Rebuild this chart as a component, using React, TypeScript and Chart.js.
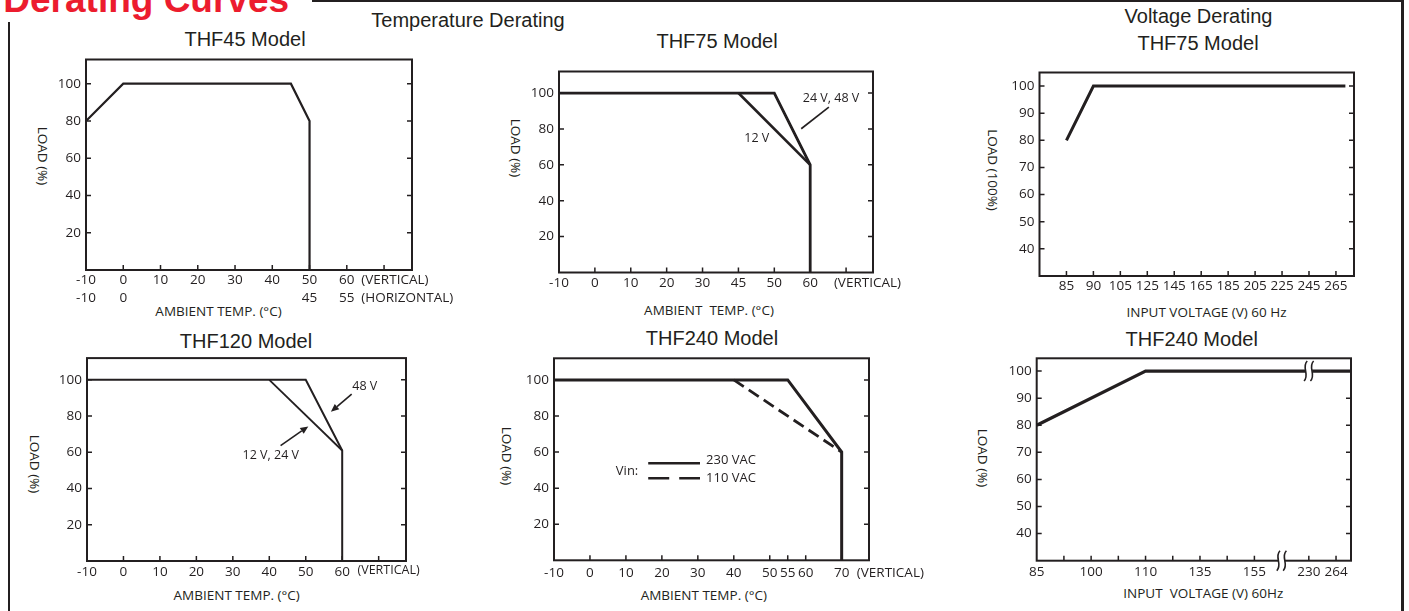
import React, { useEffect, useRef } from "react";
import { Chart, registerables } from "chart.js";
Chart.register(...registerables);

const INK = "#231f20";
const RED = "#ec1c2e";
const SANS = "'Liberation Sans', Arial, sans-serif";
const OPEN = "'Open Sans', sans-serif";

// ---------------- data ----------------
const tempYTicks = [20, 40, 60, 80, 100];
const voltYTicks = [40, 50, 60, 70, 80, 90, 100];

// THF45 (temperature)
const thf45Temp = [-10, 0, 45, 50, 50];
const thf45Load = [80, 100, 100, 80, 0];
const thf45XTicks = [-10, 0, 10, 20, 30, 40, 50, 60, 70];
const thf45XLabelsVertical = ["-10", "0", "10", "20", "30", "40", "50", "60", ""];
const thf45XLabelsHorizontal = ["-10", "0", "", "", "", "", "45", "55", ""];

// THF75 (temperature)
const thf75TempAxis = [-10, 0, 10, 20, 30, 45, 50, 60];
const thf75Temp_24_48 = [-10, 50, 60, 60];
const thf75Load_24_48 = [100, 100, 60, 0];
const thf75Temp_12 = [45, 60];
const thf75Load_12 = [100, 60];

// THF75 (voltage)
const thf75VoltAxis = [85, 90, 105, 125, 145, 165, 185, 205, 225, 245, 265];
const thf75Volt = [85, 90, 272];
const thf75VoltLoad = [80, 100, 100];

// THF120 (temperature)
const thf120XTicks = [-10, 0, 10, 20, 30, 40, 50, 60, 70];
const thf120XLabels = ["-10", "0", "10", "20", "30", "40", "50", "60", ""];
const thf120Temp_48 = [-10, 50, 60, 60];
const thf120Load_48 = [100, 100, 61, 0];
const thf120Temp_12_24 = [40, 60];
const thf120Load_12_24 = [100, 61];

// THF240 (temperature)
const thf240XTicks = [-10, 0, 10, 20, 30, 40, 50, 55, 60, 70];
const thf240Temp_230 = [-10, 55, 70, 70];
const thf240Load_230 = [100, 100, 60, 0];
const thf240Temp_110 = [40, 70];
const thf240Load_110 = [100, 60];

// THF240 (voltage) - broken axis
const thf240VoltAxis = [85, 100, 110, 135, 155, 230, 264];
const thf240VoltSlots = [0, 2, 4, 6, 8, 10, 11];
const thf240Volt = [85, 110, 283];
const thf240VoltLoad = [80, 100, 100];

// ---------------- helpers ----------------
function makeMap(knots: number[], slots: number[] = knots.map((_, i) => i)) {
  return (v: number) => {
    let i = 0;
    while (i < knots.length - 2 && v > knots[i + 1]) i++;
    const t = (v - knots[i]) / (knots[i + 1] - knots[i]);
    return slots[i] + t * (slots[i + 1] - slots[i]);
  };
}
const ident = (v: number) => v;
const range = (a: number, b: number, s = 1) => {
  const r: number[] = [];
  for (let v = a; v <= b; v += s) r.push(v);
  return r;
};

type Ann =
  | { kind: "text"; x: number; y: number; text: string; align?: CanvasTextAlign; size?: number }
  | { kind: "line"; x1: number; y1: number; x2: number; y2: number; width?: number; dash?: number[] }
  | { kind: "arrow"; x1: number; y1: number; x2: number; y2: number }
  | { kind: "brk"; x: number; y: number }
  | { kind: "under"; x: number; row: number; text: string; size?: number; gap?: number };

interface Series { x: number[]; y: number[]; width: number; dash?: number[] }
interface Panel {
  id: string;
  box: { x: number; y: number; w: number; h: number };
  area: { l: number; t: number; r: number; b: number };
  xMin: number; xMax: number; yMin: number; yMax: number;
  map: (v: number) => number;
  xTicks: number[];
  xLabels: (string | string[])[];
  xMarks: number[];
  yTicks: number[];
  labelGap: number;
  lineH: number;
  xh?: number;
  series: Series[];
  anns: Ann[];
}

const YW = 30, XH = 30, TL = 5, FS = 13.5;

const mapT75 = makeMap(thf75TempAxis);
const mapV75 = makeMap(thf75VoltAxis);
const mapV240 = makeMap(thf240VoltAxis, thf240VoltSlots);

const panels: Panel[] = [
  {
    id: "p1", box: { x: 0, y: 40, w: 453, h: 270 }, area: { l: 86, t: 59.5, r: 412, b: 270 },
    xMin: -10, xMax: 77.5, yMin: 0, yMax: 113, map: ident,
    xTicks: thf45XTicks,
    xLabels: thf45XTicks.map((_, i) => [thf45XLabelsVertical[i], thf45XLabelsHorizontal[i]]),
    xMarks: range(0, 70, 10), yTicks: tempYTicks, labelGap: 10, lineH: 18, xh: 40,
    series: [{ x: thf45Temp, y: thf45Load, width: 2.2 }],
    anns: [
      { kind: "under", x: 63.9, row: 0, text: "(VERTICAL)" },
      { kind: "under", x: 63.9, row: 1, text: "(HORIZONTAL)" },
    ],
  },
  {
    id: "p2", box: { x: 470, y: 50, w: 470, h: 260 }, area: { l: 559, t: 71.5, r: 873, b: 272.5 },
    xMin: 0, xMax: 8.75, yMin: 0, yMax: 112, map: mapT75,
    xTicks: thf75TempAxis.map((_, i) => i), xLabels: thf75TempAxis.map(String),
    xMarks: range(1, 8), yTicks: tempYTicks, labelGap: 10.6, lineH: 16.2,
    series: [
      { x: thf75Temp_24_48, y: thf75Load_24_48, width: 2.8 },
      { x: thf75Temp_12, y: thf75Load_12, width: 2.6 },
    ],
    anns: [
      { kind: "under", x: 66.6, row: 0, text: "(VERTICAL)" },
      { kind: "text", x: 65.8, y: 97.2, text: "24 V, 48 V" },
      { kind: "line", x1: 65.2, y1: 92.2, x2: 57.5, y2: 80.1, width: 1.6 },
      { kind: "text", x: 47.55, y: 74.9, text: "12 V" },
    ],
  },
  {
    id: "p3", box: { x: 960, y: 55, w: 435, h: 255 }, area: { l: 1039.5, t: 72.5, r: 1354, b: 276 },
    xMin: -1, xMax: 10.67, yMin: 30, yMax: 105, map: mapV75,
    xTicks: thf75VoltAxis.map((_, i) => i), xLabels: thf75VoltAxis.map(String),
    xMarks: range(0, 10), yTicks: voltYTicks, labelGap: 10, lineH: 16.2,
    series: [{ x: thf75Volt, y: thf75VoltLoad, width: 3 }],
    anns: [],
  },
  {
    id: "p4", box: { x: 0, y: 345, w: 453, h: 266 }, area: { l: 87, t: 357, r: 406, b: 561 },
    xMin: -10, xMax: 77.5, yMin: 0, yMax: 112, map: ident,
    xTicks: thf120XTicks, xLabels: thf120XLabels,
    xMarks: range(0, 70, 10), yTicks: tempYTicks, labelGap: 11.3, lineH: 16.2,
    series: [
      { x: thf120Temp_48, y: thf120Load_48, width: 2 },
      { x: thf120Temp_12_24, y: thf120Load_12_24, width: 1.8 },
    ],
    anns: [
      { kind: "under", x: 64.2, row: 0, text: "(VERTICAL)", size: 12.5, gap: 9 },
      { kind: "text", x: 66.2, y: 96.1, text: "48 V" },
      { kind: "arrow", x1: 62.6, y1: 92.1, x2: 56.9, y2: 82.4 },
      { kind: "text", x: 40.4, y: 58.2, text: "12 V, 24 V" },
      { kind: "arrow", x1: 43.1, y1: 63.7, x2: 50.7, y2: 74.3 },
    ],
  },
  {
    id: "p5", box: { x: 470, y: 345, w: 470, h: 266 }, area: { l: 554, t: 358.3, r: 869, b: 560.3 },
    xMin: -10, xMax: 77.6, yMin: 0, yMax: 112, map: ident,
    xTicks: thf240XTicks, xLabels: thf240XTicks.map(String),
    xMarks: [0, 10, 20, 30, 40, 50, 55, 60, 70], yTicks: tempYTicks, labelGap: 13, lineH: 16.2,
    series: [
      { x: thf240Temp_230, y: thf240Load_230, width: 3 },
      { x: thf240Temp_110, y: thf240Load_110, width: 2.8, dash: [12, 6] },
    ],
    anns: [
      { kind: "under", x: 74.2, row: 0, text: "(VERTICAL)" },
      { kind: "text", x: 7.2, y: 49.1, text: "Vin:", align: "left", size: 13 },
      { kind: "line", x1: 16.2, y1: 53.8, x2: 30.6, y2: 53.8, width: 2.3 },
      { kind: "text", x: 32.3, y: 55.6, text: "230 VAC", align: "left", size: 13 },
      { kind: "line", x1: 16.2, y1: 45.5, x2: 30.6, y2: 45.5, width: 2.3, dash: [21, 10] },
      { kind: "text", x: 32.3, y: 45.5, text: "110 VAC", align: "left", size: 13 },
    ],
  },
  {
    id: "p6", box: { x: 960, y: 345, w: 435, h: 266 }, area: { l: 1036.7, t: 358.3, r: 1351, b: 560.7 },
    xMin: 0, xMax: 11.55, yMin: 30, yMax: 104.7, map: mapV240,
    xTicks: thf240VoltSlots, xLabels: thf240VoltAxis.map(String),
    xMarks: [1, 2, 3, 4, 5, 6, 7, 8, 10, 11], yTicks: voltYTicks, labelGap: 11.6, lineH: 16.2,
    series: [{ x: thf240Volt, y: thf240VoltLoad, width: 3.3 }],
    anns: [
      { kind: "brk", x: 192.5, y: 30 },
      { kind: "brk", x: 230, y: 100 },
    ],
  },
];

function drawDeco(chart: any, p: Panel) {
  const ctx: CanvasRenderingContext2D = chart.ctx;
  const { left: l, top: t, right: r, bottom: b } = chart.chartArea;
  const xs = chart.scales.x, ys = chart.scales.y;
  const X = (v: number) => xs.getPixelForValue(p.map(v));
  const Y = (v: number) => ys.getPixelForValue(v);
  ctx.save();
  ctx.strokeStyle = INK;
  ctx.fillStyle = INK;
  ctx.lineWidth = 2;
  ctx.strokeRect(l, t, r - l, b - t);
  ctx.lineWidth = 1.5;
  ctx.beginPath();
  p.xMarks.forEach((v) => {
    const px = xs.getPixelForValue(v);
    ctx.moveTo(px, b);
    ctx.lineTo(px, b - TL);
  });
  p.yTicks.forEach((v) => {
    const py = Y(v);
    ctx.moveTo(l, py);
    ctx.lineTo(l + TL, py);
    ctx.moveTo(r, py);
    ctx.lineTo(r - TL, py);
  });
  ctx.stroke();

  for (const a of p.anns) {
    ctx.save();
    ctx.strokeStyle = INK;
    ctx.fillStyle = INK;
    if (a.kind === "text") {
      ctx.font = `${a.size ?? 12.5}px ${OPEN}`;
      ctx.textAlign = a.align ?? "center";
      ctx.textBaseline = "middle";
      ctx.fillText(a.text, X(a.x), Y(a.y));
    } else if (a.kind === "under") {
      ctx.font = `${a.size ?? FS}px ${OPEN}`;
      ctx.textAlign = "left";
      ctx.textBaseline = "middle";
      ctx.fillText(a.text, X(a.x), b + (a.gap ?? p.labelGap) + a.row * p.lineH);
    } else if (a.kind === "line") {
      ctx.lineWidth = a.width ?? 1.5;
      ctx.setLineDash(a.dash ?? []);
      ctx.beginPath();
      ctx.moveTo(X(a.x1), Y(a.y1));
      ctx.lineTo(X(a.x2), Y(a.y2));
      ctx.stroke();
    } else if (a.kind === "arrow") {
      const x1 = X(a.x1), y1 = Y(a.y1), x2 = X(a.x2), y2 = Y(a.y2);
      const ang = Math.atan2(y2 - y1, x2 - x1);
      const hl = 8, hw = 3.5;
      const bx = x2 - hl * Math.cos(ang), by = y2 - hl * Math.sin(ang);
      ctx.lineWidth = 1.6;
      ctx.beginPath();
      ctx.moveTo(x1, y1);
      ctx.lineTo(bx, by);
      ctx.stroke();
      ctx.beginPath();
      ctx.moveTo(x2, y2);
      ctx.lineTo(bx + hw * Math.sin(ang), by - hw * Math.cos(ang));
      ctx.lineTo(bx - hw * Math.sin(ang), by + hw * Math.cos(ang));
      ctx.closePath();
      ctx.fill();
    } else if (a.kind === "brk") {
      const px = X(a.x), py = Y(a.y);
      ctx.fillStyle = "#fff";
      ctx.fillRect(px - 3.3, py - 3, 6.6, 6);
      ctx.lineWidth = 1.6;
      for (const dx of [-3.2, 3.2]) {
        const cx = px + dx;
        ctx.beginPath();
        ctx.moveTo(cx + 1.6, py - 10);
        ctx.bezierCurveTo(cx - 4.5, py - 4, cx + 4.5, py + 4, cx - 1.6, py + 10);
        ctx.stroke();
      }
    }
    ctx.restore();
  }
  ctx.restore();
}

function PanelChart({ p }: { p: Panel }) {
  const ref = useRef<HTMLCanvasElement>(null);
  useEffect(() => {
    const cv = ref.current;
    if (!cv) return;
    const xh = p.xh ?? XH;
    const pad = {
      left: p.area.l - p.box.x - YW,
      top: p.area.t - p.box.y,
      right: p.box.x + p.box.w - p.area.r,
      bottom: p.box.y + p.box.h - p.area.b - xh,
    };
    const tickFont = { family: OPEN, size: FS, lineHeight: p.lineH / FS };
    const chart = new Chart(cv, {
      type: "scatter",
      data: {
        datasets: p.series.map((s) => ({
          data: s.x.map((v, i) => ({ x: p.map(v), y: s.y[i] })),
          showLine: true,
          borderColor: INK,
          backgroundColor: INK,
          borderWidth: s.width,
          borderDash: s.dash ?? [],
          borderJoinStyle: "miter",
          borderCapStyle: "butt",
          pointRadius: 0,
          pointHoverRadius: 0,
          fill: false,
          tension: 0,
        })),
      },
      options: {
        responsive: false,
        animation: false,
        devicePixelRatio: 1,
        events: [],
        layout: { padding: pad },
        plugins: { legend: { display: false }, tooltip: { enabled: false }, title: { display: false } },
        scales: {
          x: {
            type: "linear",
            min: p.xMin,
            max: p.xMax,
            grid: { display: false, drawTicks: false },
            border: { display: false },
            afterBuildTicks: (s: any) => {
              s.ticks = p.xTicks.map((v) => ({ value: v }));
            },
            afterFit: (s: any) => {
              s.height = xh;
            },
            ticks: {
              autoSkip: false,
              maxRotation: 0,
              minRotation: 0,
              padding: p.labelGap - p.lineH / 2,
              color: INK,
              font: tickFont,
              callback: (_v: any, i: number) => p.xLabels[i] ?? "",
            },
          },
          y: {
            type: "linear",
            min: p.yMin,
            max: p.yMax,
            grid: { display: false, drawTicks: false },
            border: { display: false },
            afterBuildTicks: (s: any) => {
              s.ticks = p.yTicks.map((v) => ({ value: v }));
            },
            afterFit: (s: any) => {
              s.width = YW;
            },
            ticks: {
              autoSkip: false,
              padding: 5,
              color: INK,
              font: { family: OPEN, size: FS },
              callback: (v: any) => String(v),
            },
          },
        },
      } as any,
      plugins: [{ id: "deco_" + p.id, afterDraw: (c: any) => drawDeco(c, p) }],
    });
    return () => chart.destroy();
  }, [p]);
  return (
    <canvas
      ref={ref}
      width={p.box.w}
      height={p.box.h}
      style={{ position: "absolute", left: p.box.x, top: p.box.y, width: p.box.w, height: p.box.h }}
    />
  );
}

function Label(props: { s: string; x: number; y: number; size: number; family: string; rot?: boolean }) {
  return (
    <div
      style={{
        position: "absolute",
        left: props.x,
        top: props.y,
        transform: `translate(-50%, -50%)${props.rot ? " rotate(90deg)" : ""}`,
        fontFamily: props.family,
        fontSize: props.size,
        lineHeight: 1,
        whiteSpace: "pre",
        color: INK,
      }}
    >
      {props.s}
    </div>
  );
}

const headings = [
  { s: "Temperature Derating", x: 468, y: 20 },
  { s: "Voltage Derating", x: 1198.5, y: 15.5 },
  { s: "THF45 Model", x: 245, y: 38.7 },
  { s: "THF75 Model", x: 717, y: 41.2 },
  { s: "THF75 Model", x: 1198, y: 43 },
  { s: "THF120 Model", x: 246, y: 340.5 },
  { s: "THF240 Model", x: 712, y: 338.3 },
  { s: "THF240 Model", x: 1191.7, y: 338.7 },
];
const axisTitles = [
  { s: "AMBIENT TEMP. (°C)", x: 218.5, y: 312 },
  { s: "AMBIENT  TEMP. (°C)", x: 709, y: 311 },
  { s: "INPUT VOLTAGE (V) 60 Hz", x: 1206.5, y: 312.8 },
  { s: "AMBIENT TEMP. (°C)", x: 236.7, y: 596 },
  { s: "AMBIENT TEMP. (°C)", x: 703.8, y: 596 },
  { s: "INPUT  VOLTAGE (V) 60Hz", x: 1203.3, y: 594 },
];
const yTitles = [
  { s: "LOAD (%)", x: 41.7, y: 156.3 },
  { s: "LOAD (%)", x: 515.3, y: 147.8 },
  { s: "LOAD (100%)", x: 991.7, y: 170 },
  { s: "LOAD (%)", x: 33.7, y: 464.2 },
  { s: "LOAD (%)", x: 506.3, y: 455.8 },
  { s: "LOAD (%)", x: 981.7, y: 457.5 },
];

export default function App() {
  return (
    <div
      style={{
        position: "absolute",
        left: 0,
        top: 0,
        width: 1409,
        height: 611,
        overflow: "hidden",
        background: "#fff",
      }}
    >
      {/* frame */}
      <div style={{ position: "absolute", left: 312, top: 0, width: 1091, height: 2, background: INK }} />
      <div style={{ position: "absolute", left: 1401, top: 0, width: 2.5, height: 611, background: INK }} />
      <div style={{ position: "absolute", left: 8, top: 22, width: 2, height: 589, background: INK }} />
      <div
        style={{
          position: "absolute",
          left: 3.3,
          top: -18.8,
          fontFamily: SANS,
          fontWeight: 700,
          fontSize: 37,
          lineHeight: 1,
          whiteSpace: "pre",
          color: RED,
        }}
      >
        Derating Curves
      </div>
      {headings.map((h, i) => (
        <Label key={"h" + i} s={h.s} x={h.x} y={h.y} size={20} family={SANS} />
      ))}
      {axisTitles.map((h, i) => (
        <Label key={"a" + i} s={h.s} x={h.x} y={h.y} size={13.5} family={OPEN} />
      ))}
      {yTitles.map((h, i) => (
        <Label key={"y" + i} s={h.s} x={h.x} y={h.y} size={13.5} family={OPEN} rot />
      ))}
      {panels.map((p) => (
        <PanelChart key={p.id} p={p} />
      ))}
    </div>
  );
}
